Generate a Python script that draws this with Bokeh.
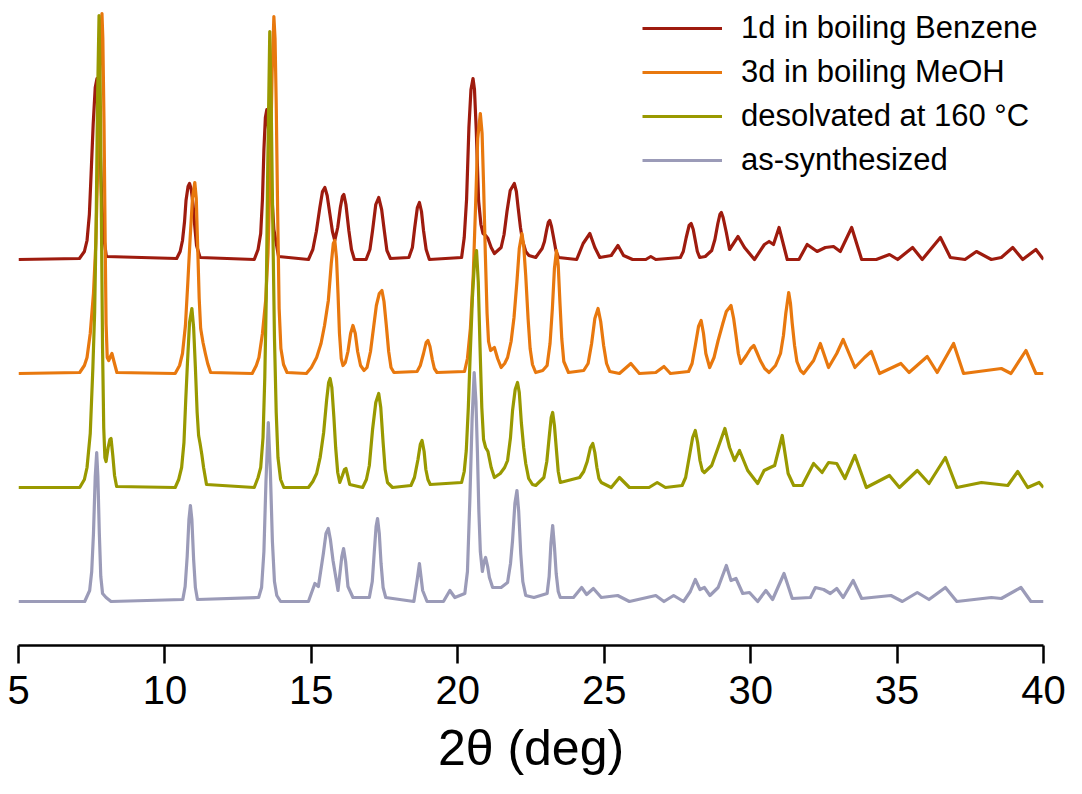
from bokeh.plotting import figure
from bokeh.models import ColumnDataSource, Range1d, FixedTicker, Legend, LegendItem
from bokeh.embed import file_html
from bokeh.resources import INLINE

# ---------------- data ----------------
series_names = ["1d in boiling Benzene", "3d in boiling MeOH",
                "desolvated at 160 °C", "as-synthesized"]
series_colors = ["#9E1B0E", "#E8780E", "#999900", "#9B9BB8"]
# vertical offsets of each pattern (baseline level, arbitrary intensity units)
offsets = [386, 272, 158, 44]
x_ticks = [5, 10, 15, 20, 25, 30, 35, 40]

red_x = [5.0, 7.08, 7.25, 7.34, 7.42, 7.48, 7.55, 7.62, 7.68, 7.73, 7.78, 7.84, 7.9, 8.0,
         10.40, 10.52, 10.60, 10.67, 10.72, 10.79, 10.84, 10.9, 10.96, 11.02, 11.08, 11.2,
         13.05, 13.18, 13.27, 13.33, 13.38, 13.43, 13.48, 13.54, 13.62, 13.72, 13.88,
         14.9, 15.05, 15.17, 15.29, 15.38, 15.46, 15.54, 15.63, 15.72, 15.8, 15.9, 15.99,
         16.06, 16.11, 16.18, 16.28, 16.37, 16.47,
         16.87, 17.0, 17.09, 17.2, 17.3, 17.4, 17.49, 17.58, 17.7,
         18.33, 18.45, 18.53, 18.62, 18.69, 18.76, 18.83, 18.92, 19.03,
         20.13, 20.22, 20.3, 20.38, 20.45, 20.52, 20.57, 20.63, 20.71, 20.79, 20.86,
         20.95, 21.03, 21.14, 21.25,
         21.48, 21.58, 21.68, 21.79, 21.93, 22.0, 22.06, 22.14, 22.21, 22.32, 22.43, 22.66,
         22.88, 22.96, 23.03, 23.09, 23.14, 23.2, 23.27, 23.35, 23.44,
         24.06, 24.28, 24.51, 24.68, 24.85,
         25.24, 25.47, 25.66, 25.97,
         26.42, 26.59, 26.76,
         27.6, 27.7, 27.8, 27.9, 27.97, 28.04, 28.11, 28.18, 28.26, 28.45,
         28.67, 28.78, 28.88, 28.95, 29.0, 29.06, 29.17, 29.28, 29.57, 29.79,
         30.13, 30.47, 30.63, 30.78, 30.97, 31.25, 31.65, 31.93, 32.27, 32.55,
         32.83, 33.06, 33.45, 33.79, 34.29, 34.74, 35.02, 35.53, 35.86, 36.48,
         36.82, 37.32, 37.71, 38.22, 38.56, 38.95, 39.29, 39.74, 40.0]
red_h = [0, 1, 8, 19, 45, 86, 135, 172, 181, 165, 120, 60, 25, 3,
         1, 8, 19, 38, 59, 73, 76, 70, 55, 33, 14, 2,
         0, 10, 26, 60, 110, 142, 150, 130, 80, 30, 3,
         0, 10, 28, 52, 68, 72, 64, 46, 28, 19, 32, 52,
         63, 65, 55, 29, 10, 0,
         0, 10, 29, 55, 62, 50, 29, 9, 1,
         2, 12, 32, 52, 57, 48, 29, 10, 0,
         2, 22, 60, 132, 170, 181, 170, 130, 59, 35, 26,
         24, 21, 12, 6,
         12, 25, 48, 69, 76, 68, 52, 32, 19, 8, 4, 2,
         11, 18, 29, 37, 39, 33, 22, 9, 2,
         0, 16, 26, 12, 2,
         4, 14, 4, 0,
         0, 3, 0,
         2, 8, 22, 34, 36, 30, 19, 8, 2, 3,
         9, 20, 36, 45, 47, 42, 27, 10, 23, 12,
         0, 15, 18, 15, 32, 0, 0, 15, 8, 12,
         13, 8, 32, 0, 0, 5, 0, 12, 0, 22,
         2, 0, 8, 0, 2, 12, 0, 10, 0]

orange_x = [5.0, 7.09, 7.25, 7.34, 7.45, 7.56, 7.64, 7.7, 7.75, 7.8, 7.85, 7.88, 7.92, 7.96,
            7.99, 8.03, 8.08, 8.14, 8.19, 8.26, 8.36,
            10.35, 10.5, 10.6, 10.7, 10.78, 10.86, 10.94, 11.02, 11.07, 11.12, 11.17, 11.22,
            11.3, 11.38, 11.46, 11.56,
            12.98, 13.12, 13.21, 13.33, 13.44, 13.52, 13.6, 13.66, 13.72, 13.76, 13.8, 13.85,
            13.9, 13.96, 14.05, 14.17,
            14.83, 15.0, 15.18, 15.33, 15.45, 15.58, 15.68, 15.75, 15.8, 15.86, 15.91, 15.96,
            16.02, 16.08, 16.16, 16.25, 16.34, 16.42, 16.5, 16.58, 16.68, 16.8,
            16.9, 17.02, 17.12, 17.22, 17.32, 17.41, 17.48, 17.56, 17.64, 17.72, 17.82,
            18.61, 18.72, 18.83, 18.92, 18.98, 19.05, 19.13, 19.2, 19.29,
            20.23, 20.33, 20.43, 20.53, 20.61, 20.68, 20.77, 20.83, 20.88, 20.94, 21.0,
            21.05, 21.12, 21.25, 21.36, 21.48,
            21.6, 21.7, 21.82, 21.92, 22.02, 22.1, 22.19, 22.25, 22.32, 22.4, 22.47, 22.55, 22.66,
            22.9, 23.05, 23.15, 23.23, 23.3, 23.37, 23.43, 23.49, 23.55, 23.62, 23.78,
            24.3, 24.45, 24.57, 24.68, 24.79, 24.88, 24.98, 25.08, 25.19,
            25.52, 25.91, 26.2,
            26.76, 27.04, 27.26,
            27.88, 28.0, 28.11, 28.22, 28.31, 28.39, 28.47, 28.6,
            28.75, 28.89, 29.05, 29.17, 29.33, 29.42, 29.5, 29.58, 29.66, 29.85,
            30.0, 30.11, 30.2, 30.33, 30.48, 30.63, 30.85, 31.02, 31.12, 31.2,
            31.3, 31.36, 31.42, 31.5, 31.58, 31.7, 31.81, 32.15, 32.38, 32.66,
            32.94, 33.16, 33.56, 33.89, 34.12, 34.4, 35.13, 35.41, 36.03, 36.37,
            36.93, 37.27, 38.56, 38.89, 39.4, 39.74, 40.0]
orange_h = [0, 1, 8, 16, 40, 80, 130, 200, 270, 330, 360, 335, 250, 130,
            50, 16, 13, 17, 20, 12, 1,
            0, 8, 20, 48, 90, 135, 175, 191, 175, 125, 75, 45,
            31, 20, 10, 1,
            0, 8, 16, 40, 73, 120, 210, 300, 357, 335, 270, 160,
            65, 25, 9, 1,
            0, 6, 16, 30, 48, 73, 110, 130, 133, 115, 80, 40,
            15, 8, 11, 22, 40, 48, 40, 22, 8, 3,
            6, 22, 45, 68, 80, 83, 72, 48, 22, 6, 1,
            2, 8, 20, 31, 33, 27, 14, 5, 1,
            2, 15, 45, 100, 170, 235, 260, 240, 190, 120, 60,
            32, 23, 26, 15, 6,
            10, 16, 32, 56, 92, 125, 140, 128, 98, 55, 25, 9, 1,
            3, 8, 30, 65, 105, 123, 108, 70, 35, 12, 1,
            3, 10, 30, 55, 65, 52, 28, 10, 2,
            0, 10, 0,
            1, 7, 0,
            2, 10, 28, 47, 53, 40, 20, 6,
            16, 33, 50, 62, 68, 55, 38, 20, 10, 18,
            25, 28, 22, 13, 5, 1, 8, 20, 38, 60,
            81, 70, 50, 28, 12, 3, 0, 13, 30, 6,
            20, 34, 6, 16, 22, 0, 10, 1, 17, 1,
            30, 0, 5, 0, 23, 0, 0]

green_x = [5.0, 7.09, 7.25, 7.34, 7.45, 7.54, 7.6, 7.65, 7.7, 7.75, 7.79, 7.83, 7.87, 7.91,
           7.95, 7.99, 8.06, 8.12, 8.16, 8.22, 8.28, 8.35,
           10.35, 10.47, 10.57, 10.65, 10.71, 10.77, 10.84, 10.92, 10.98, 11.04, 11.1, 11.15,
           11.2, 11.26, 11.32, 11.42,
           13.05, 13.18, 13.27, 13.35, 13.41, 13.46, 13.51, 13.58, 13.63, 13.68, 13.74, 13.8,
           13.86, 13.95, 14.06,
           14.9, 15.05, 15.18, 15.3, 15.42, 15.52, 15.59, 15.64, 15.7, 15.77, 15.83, 15.9,
           15.97, 16.06, 16.13, 16.18, 16.24, 16.31,
           16.75, 16.88, 16.98, 17.09, 17.2, 17.3, 17.37, 17.45, 17.52, 17.6, 17.77,
           18.4, 18.52, 18.64, 18.72, 18.78, 18.85, 18.91, 18.98, 19.06,
           20.13, 20.22, 20.29, 20.36, 20.42, 20.5, 20.57, 20.64, 20.7, 20.76, 20.82, 20.88,
           20.95, 21.03, 21.14, 21.25, 21.45,
           21.6, 21.7, 21.8, 21.87, 21.96, 22.04, 22.1, 22.17, 22.25, 22.32, 22.42, 22.55, 22.66,
           22.94, 23.04, 23.12, 23.19, 23.24, 23.3, 23.37, 23.43, 23.5,
           24.16, 24.3, 24.42, 24.53, 24.61, 24.68, 24.75, 24.82, 24.9,
           25.24, 25.52, 25.86,
           26.53, 26.81, 27.09,
           27.66, 27.78, 27.9, 28.02, 28.11, 28.19, 28.27, 28.35, 28.42,
           28.67, 28.89, 29.12, 29.28, 29.45, 29.62, 29.9, 30.24, 30.46, 30.67,
           30.82, 31.08, 31.28, 31.47, 31.76, 32.15, 32.44, 32.66, 32.94, 33.22,
           33.56, 33.95, 34.74, 35.08, 35.69, 36.09, 36.65, 37.04, 37.88, 38.78,
           39.12, 39.46, 39.85, 40.0]
green_h = [0, 0, 8, 20, 54, 120, 175, 260, 390, 472, 400, 270, 140, 60,
           30, 26, 40, 48, 49, 32, 12, 1,
           0, 8, 20, 45, 87, 125, 165, 179, 160, 120, 75, 52,
           44, 33, 20, 3,
           0, 10, 20, 50, 110, 190, 320, 456, 380, 270, 150, 75,
           30, 8, 0,
           0, 6, 14, 30, 55, 87, 105, 109, 100, 70, 40, 15,
           5, 12, 18, 19, 12, 3,
           0, 8, 22, 58, 85, 94, 80, 45, 18, 5, 0,
           2, 10, 28, 43, 47, 36, 18, 8, 3,
           5, 16, 37, 80, 130, 190, 225, 237, 205, 140, 80, 48,
           40, 36, 20, 10, 14,
           20, 27, 50, 77, 98, 105, 95, 65, 40, 24, 9, 3, 2,
           10, 26, 50, 70, 75, 62, 37, 16, 5,
           10, 16, 26, 40, 44, 35, 20, 9, 5,
           0, 10, 0,
           0, 5, 0,
           2, 10, 30, 50, 57, 45, 27, 17, 15,
           22, 40, 59, 40, 27, 37, 17, 4, 17, 20,
           22, 52, 14, 2, 2, 24, 15, 25, 24, 9,
           32, 0, 12, 0, 17, 4, 30, 0, 5, 2,
           16, 0, 5, 0]

gray_x = [5.0, 7.26, 7.43, 7.5, 7.56, 7.62, 7.67, 7.71, 7.76, 7.81, 7.87, 7.99, 8.16,
          10.61, 10.69, 10.76, 10.82, 10.87, 10.92, 10.98, 11.04, 11.11,
          13.2, 13.3, 13.38, 13.45, 13.53, 13.6, 13.67, 13.74, 13.82, 13.95,
          14.9, 15.12, 15.24, 15.41, 15.5, 15.58, 15.65, 15.74, 15.91, 16.04, 16.1, 16.17,
          16.25, 16.42,
          16.98, 17.08, 17.15, 17.21, 17.26, 17.32, 17.38, 17.45, 17.54,
          18.5, 18.61, 18.69, 18.8, 18.95,
          19.51, 19.73, 19.9,
          20.24, 20.33, 20.41, 20.49, 20.56, 20.62, 20.67, 20.72, 20.77, 20.84, 20.9, 20.95,
          21.02, 21.08, 21.19, 21.48,
          21.7, 21.8, 21.87, 21.95, 22.02, 22.08, 22.15, 22.22, 22.32, 22.6,
          23.05, 23.12, 23.18, 23.24, 23.3, 23.36, 23.43, 23.5,
          23.95, 24.23, 24.4, 24.63, 24.9,
          25.46, 25.86, 26.76, 27.04, 27.37, 27.71, 27.94, 28.11, 28.27, 28.42, 28.61,
          28.89, 29.17, 29.33, 29.5, 29.73, 29.96, 30.24, 30.52, 30.75, 31.14,
          31.42, 32.04, 32.21, 32.49, 32.72, 32.94, 33.16, 33.5, 33.79, 34.79,
          35.18, 35.69, 36.09, 36.65, 37.04, 38.22, 38.56, 39.23, 39.57, 40.0]
gray_h = [0, 0, 11, 30, 68, 125, 149, 125, 68, 25, 8, 4, 0,
          2, 15, 45, 82, 96, 82, 42, 14, 2,
          4, 14, 50, 120, 179, 130, 60, 20, 6, 0,
          0, 18, 15, 48, 68, 73, 62, 41, 11, 45, 53, 40,
          15, 4,
          4, 20, 50, 75, 83, 68, 38, 14, 4,
          0, 21, 38, 11, 0,
          0, 11, 4,
          8, 30, 100, 183, 229, 200, 150, 90, 50, 30, 40, 44,
          35, 24, 14, 14,
          19, 38, 61, 98, 111, 90, 48, 20, 6, 4,
          8, 25, 58, 76, 55, 28, 10, 4,
          4, 14, 7, 13, 4,
          6, 0, 6, 0, 6, 0, 10, 22, 12, 14, 6,
          14, 36, 21, 23, 8, 9, 0, 11, 2, 28,
          3, 4, 14, 12, 8, 13, 4, 21, 3, 6,
          0, 9, 2, 14, 0, 4, 3, 14, 0, 0]

all_x = [red_x, orange_x, green_x, gray_x]
all_h = [red_h, orange_h, green_h, gray_h]

# ---------------- figure ----------------
FRAME_H = 645
p = figure(width=1066, height=778, output_backend="svg", toolbar_location=None,
           x_range=Range1d(5, 40), y_range=Range1d(0, FRAME_H),
           min_border_left=18, min_border_right=23, min_border_top=0,
           min_border_bottom=133, y_axis_location=None)
p.outline_line_color = None
p.xgrid.visible = False
p.ygrid.visible = False
p.background_fill_color = "white"
p.border_fill_color = "white"

FONT = "Liberation Sans"
ax = p.xaxis[0]
ax.ticker = FixedTicker(ticks=x_ticks, minor_ticks=[])
ax.axis_line_width = 2.5
ax.axis_line_color = "black"
ax.major_tick_line_width = 2.5
ax.major_tick_line_color = "black"
ax.major_tick_in = 0
ax.major_tick_out = 18
ax.minor_tick_line_color = None
ax.major_label_text_font = FONT
ax.major_label_text_font_size = "40px"
ax.major_label_text_color = "black"
ax.major_label_standoff = 12
ax.axis_label = "2θ (deg)"
ax.axis_label_text_font = FONT
ax.axis_label_text_font_size = "50px"
ax.axis_label_text_font_style = "normal"
ax.axis_label_text_color = "black"
ax.axis_label_standoff = 13

renderers = []
for xs, hs, off, col in zip(all_x, all_h, offsets, series_colors):
    src = ColumnDataSource(dict(x=xs, y=[h + off for h in hs]))
    r = p.line("x", "y", source=src, line_color=col, line_width=3.2,
               line_join="round")
    renderers.append(r)

items = [LegendItem(label=n, renderers=[r]) for n, r in zip(series_names, renderers)]
ROW_H, SPACING = 40, 4
leg_h = len(items) * ROW_H + (len(items) - 1) * SPACING
legend = Legend(items=items, location=(624, FRAME_H - leg_h - 8),
                glyph_width=80, glyph_height=ROW_H, label_height=ROW_H,
                spacing=SPACING, padding=0, margin=0, label_standoff=19,
                border_line_alpha=0, background_fill_alpha=0,
                label_text_font=FONT, label_text_font_size="31px",
                label_text_color="black")
p.add_layout(legend)

open("out.html", "w").write(file_html(p, INLINE))
